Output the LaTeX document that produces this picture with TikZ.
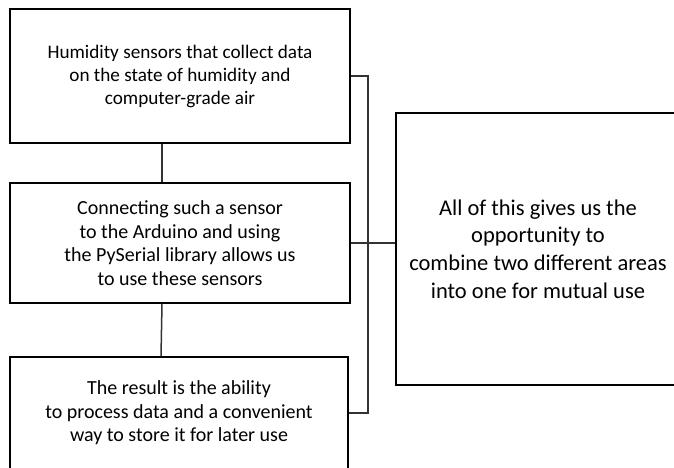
\documentclass[tikz,border=0pt]{standalone}
\usepackage{fontspec}
\setmainfont{Carlito}
\begin{document}
\begin{tikzpicture}[x=1pt,y=-1pt,
                    thick,main node/.style={draw,line width=1.5pt,align=center,
                      inner sep=0pt,font=\fontsize{20}{23.5}\selectfont},
                    link/.style={line width=1.5pt,draw=black!80}
                   ]
  \useasboundingbox (0,0) rectangle (674,468);
  \node[main node,minimum width=340,minimum height=134,
        font=\fontsize{19.2}{23}\selectfont] (top) at (180,76)
    {Humidity sensors that collect data\\on the state of humidity and\\computer-grade air};
  \node[main node,minimum width=340,minimum height=120] (mid) at (180,243)
    {Connecting such a sensor\\to the Arduino and using\\the PySerial library allows us\\to use these sensors};
  \node[main node,minimum width=338,minimum height=112] (bot) at (179,413)
    {The result is the ability\\to process data and a convenient\\way to store it for later use};
  \node[main node,minimum width=284,minimum height=272,
        font=\fontsize{22.5}{27.7}\selectfont] (all) at (538,249)
    {All of this gives us the\\opportunity to\\combine two different areas\\into one for mutual use};
  \coordinate (bus) at (368,0);
  \path[link]%
    ([xshift=-18]top.south) edge ([xshift=-18]mid.north)
    ([xshift=-18]mid.south) edge ([xshift=-18]bot.north);
  \draw[link] (top.east) -- (top.east -| bus) -- (bot.east -| bus) -- (bot.east);
  \draw[link] (mid.east) -- (mid.east -| all.west);
\end{tikzpicture}
\end{document}
